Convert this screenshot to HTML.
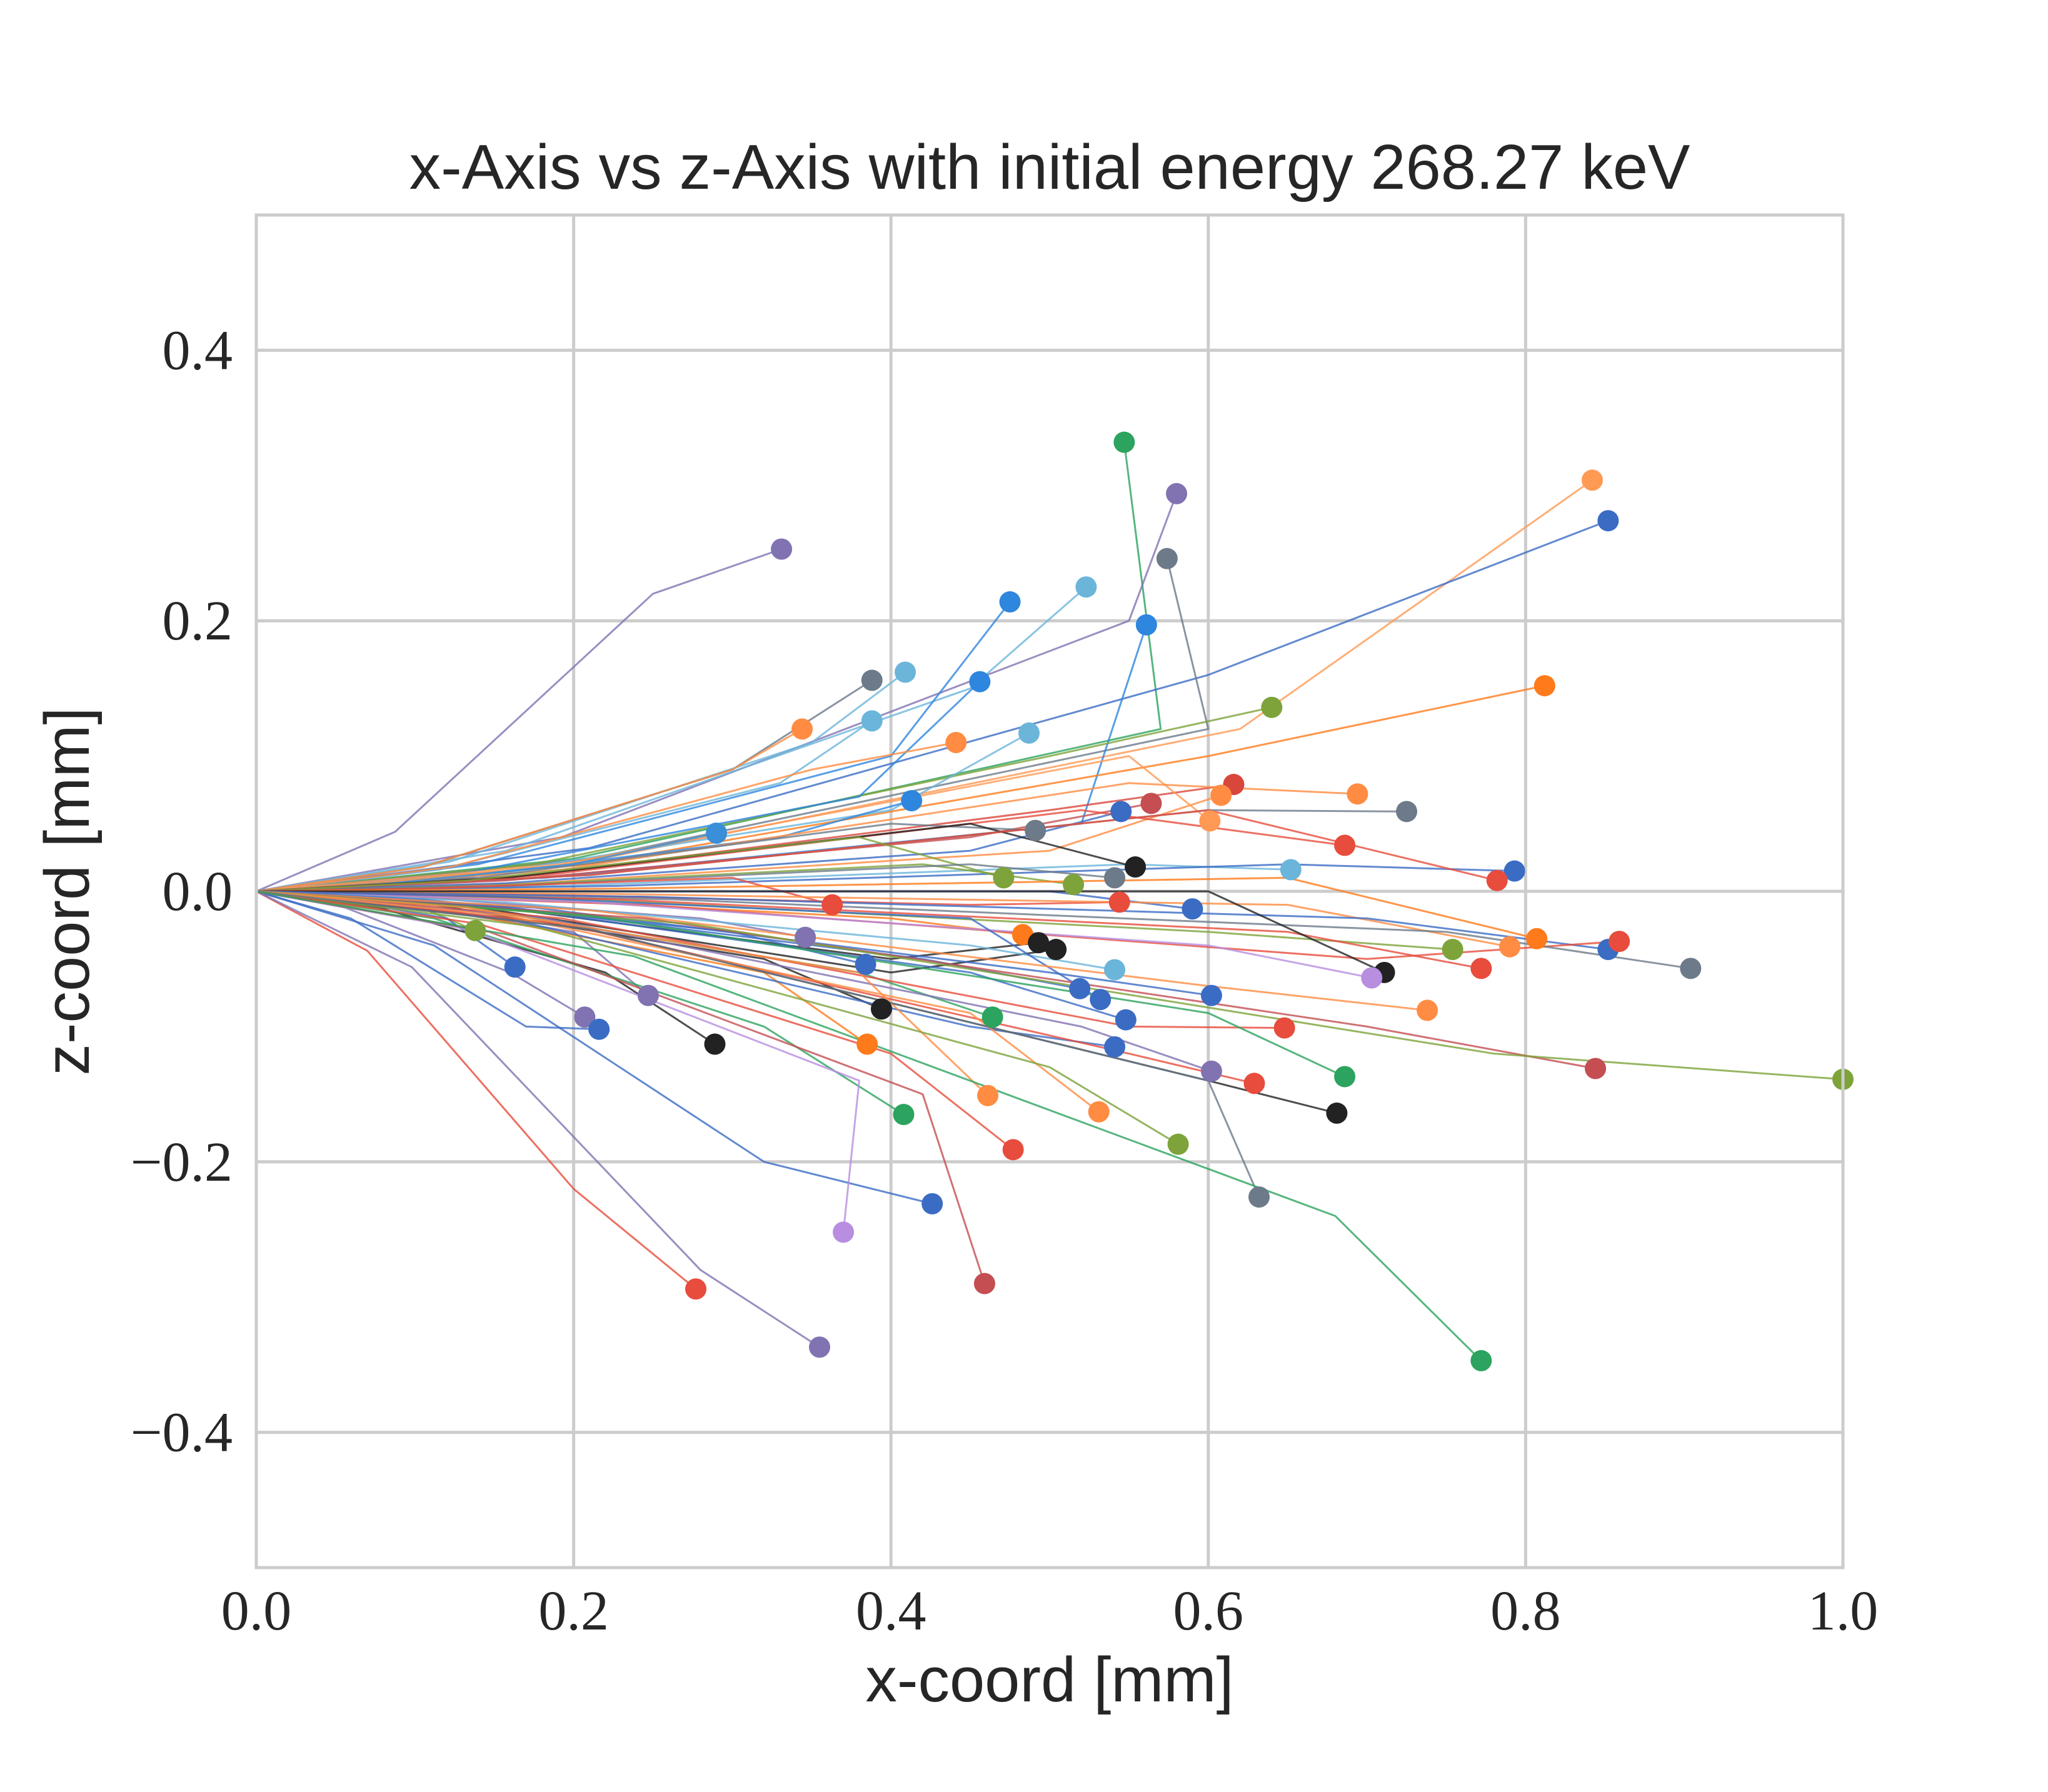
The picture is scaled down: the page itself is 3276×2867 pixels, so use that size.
<!DOCTYPE html>
<html><head><meta charset="utf-8"><style>
html,body{margin:0;padding:0;background:#fff}
svg{display:block}
.tick{font-family:"Liberation Serif",serif;font-size:90px;fill:#262626}
.lab{font-family:"Liberation Sans",sans-serif;font-size:101px;fill:#262626}
</style></head><body>
<svg id="chart" width="3276" height="2867" viewBox="0 0 3276 2867" xmlns="http://www.w3.org/2000/svg">
<rect width="3276" height="2867" fill="#fff"/>
<g id="grid"></g>
<g id="tracks"></g>
<rect x="410" y="344" width="2538" height="2164" fill="none" stroke="#cccccc" stroke-width="5"/>
<text class="lab" x="1679" y="302" text-anchor="middle">x-Axis vs z-Axis with initial energy 268.27 keV</text>
<text class="lab" x="1679" y="2722" text-anchor="middle">x-coord [mm]</text>
<text class="lab" x="142" y="1426" text-anchor="middle" transform="rotate(-90 142 1426)">z-coord [mm]</text>
<g id="ticks"></g>
</svg>
<script>
const xTicks=[0,0.2,0.4,0.6,0.8,1.0];
const xTickLabels=["0.0","0.2","0.4","0.6","0.8","1.0"];
const yTicks=[-0.4,-0.2,0,0.2,0.4];
const yTickLabels=["\u22120.4","\u22120.2","0.0","0.2","0.4"];
const endX=[.547,.580,.842,.852,.331,.574,.523,.475,.561,.812,.640,.388,.409,.456,.344,.388,.441,.487,.413,.616,.608,.601,.564,.545,.694,.725,.686,.491,.290,.652,.554,.793,.782,.471,.515,.541,.363,.544,.590,.138,.163,.346,.483,.493,.504,.754,.790,.807,.852,.859,.904,.772,.711,.703,.541,.519,.532,.602,.384,.394,.464,.548,.738,.207,.247,.216,.289,.385,.541,.648,.844,1.0,.602,.629,.686,.681,.408,.461,.531,.581,.477,.632,.426,.370,.277,.459,.355,.772];
const endZ=[.332,.294,.304,.274,.253,.246,.225,.214,.197,.152,.136,.156,.162,.155,.120,.126,.110,.117,.067,.079,.071,.052,.065,.059,.072,.059,.034,.045,.043,.016,.018,.015,.008,.010,.005,.010,-.010,-.008,-.013,-.029,-.056,-.034,-.032,-.038,-.043,-.043,-.041,-.035,-.043,-.037,-.057,-.057,-.060,-.064,-.058,-.072,-.080,-.077,-.054,-.087,-.093,-.095,-.088,-.093,-.077,-.102,-.113,-.113,-.115,-.101,-.131,-.139,-.133,-.142,-.137,-.164,-.165,-.151,-.163,-.187,-.191,-.226,-.231,-.252,-.294,-.290,-.337,-.347];
const midX=[.57,.55,.62,.60,.25,.60,.45,.40,.52,.60,.50,.30,.35,.38,.30,.33,.35,.40,.33,.50,.50,.55,.45,.45,.55,.60,.52,.40,.20,.55,.45,.65,.60,.38,.42,.45,.30,.45,.50,.10,.12,.28,.40,.40,.40,.60,.65,.65,.70,.70,.75,.65,.60,.60,.45,.42,.45,.50,.30,.32,.38,.45,.60,.16,.20,.17,.22,.32,.45,.55,.70,.78,.52,.55,.60,.60,.32,.38,.45,.50,.40,.60,.32,.38,.20,.42,.28,.68];
const midZ=[.12,.20,.12,.16,.22,.12,.15,.10,.05,.10,.10,.09,.11,.07,.09,.08,.09,.06,.04,.06,.03,.10,.04,.03,.08,.06,.06,.05,.02,.02,.05,.02,.06,.04,.02,.02,.01,-.01,.00,-.01,-.02,-.02,-.02,-.05,-.06,-.03,-.01,.01,-.02,-.05,-.03,-.03,.00,-.04,-.04,-.05,-.02,-.06,-.03,-.05,-.06,-.06,-.07,-.06,-.03,-.10,-.06,-.06,-.10,-.10,-.10,-.12,-.10,-.12,-.09,-.14,-.10,-.06,-.09,-.13,-.12,-.14,-.20,-.14,-.22,-.15,-.28,-.24];
const colorList=["#2ca35e","#8172b2","#ff9a55","#3b6cc4","#8172b2","#6c7a89","#6bb5db","#2e86de","#2e86de","#ff7a1a","#7da33a","#6c7a89","#6bb5db","#2e86de","#ff8c42","#6bb5db","#ff8c42","#6bb5db","#2e86de","#d9463b","#ff8c42","#ff9a55","#c44e52","#3b6cc4","#ff8c42","#6c7a89","#e74c3c","#6c7a89","#3b8ed8","#6bb5db","#222222","#3b6cc4","#e74c3c","#7da33a","#7da33a","#6c7a89","#e74c3c","#e74c3c","#3b6cc4","#7da33a","#3b6cc4","#8172b2","#ff7a1a","#222222","#222222","#7da33a","#ff8c42","#ff7a1a","#3b6cc4","#e74c3c","#6c7a89","#e74c3c","#222222","#b88ee0","#6bb5db","#3b6cc4","#3b6cc4","#3b6cc4","#3b6cc4","#222222","#2ca35e","#3b6cc4","#ff8c42","#8172b2","#8172b2","#3b6cc4","#222222","#ff7a1a","#3b6cc4","#e74c3c","#c44e52","#7da33a","#8172b2","#e74c3c","#2ca35e","#222222","#2ca35e","#ff8c42","#ff8c42","#7da33a","#e74c3c","#6c7a89","#3b6cc4","#b88ee0","#e74c3c","#c44e52","#8172b2","#2ca35e"];
const NS="http://www.w3.org/2000/svg";
const L=410,R=2948,T=344,B=2508;
function sx(v){return L+(v-0)/(1-0)*(R-L);}
function sy(v){return B-(v+0.5)/1.0*(B-T);}
const grid=document.getElementById('grid'),ticks=document.getElementById('ticks'),tracks=document.getElementById('tracks');
xTicks.forEach((v,i)=>{
 const ln=document.createElementNS(NS,'line');
 
 
 ln.setAttribute('x1',sx(v));ln.setAttribute('x2',sx(v));ln.setAttribute('y1',T);ln.setAttribute('y2',B);
 ln.setAttribute('stroke','#cccccc');ln.setAttribute('stroke-width','5');grid.appendChild(ln);
 const t=document.createElementNS(NS,'text');
 
 
 t.setAttribute('class','tick');t.setAttribute('x',sx(v));t.setAttribute('y',2607);t.setAttribute('text-anchor','middle');
 t.textContent=xTickLabels[i];ticks.appendChild(t);
});
yTicks.forEach((v,i)=>{
 const ln=document.createElementNS(NS,'line');
 
 
 ln.setAttribute('x1',L);ln.setAttribute('x2',R);ln.setAttribute('y1',sy(v));ln.setAttribute('y2',sy(v));
 ln.setAttribute('stroke','#cccccc');ln.setAttribute('stroke-width','5');grid.appendChild(ln);
 const t=document.createElementNS(NS,'text');
 
 
 t.setAttribute('class','tick');t.setAttribute('x',372);t.setAttribute('y',sy(v)+30);t.setAttribute('text-anchor','end');
 t.textContent=yTickLabels[i];ticks.appendChild(t);
});
endX.forEach((ex,i)=>{
 const c=colorList[i%colorList.length];
 const p=document.createElementNS(NS,'polyline');
 
 
 const mx=midX[i],mz=midZ[i];
 const pts=[[0,0],[mx*0.35,mz*0.2],[mx,mz],[ex,endZ[i]]];
 p.setAttribute('points',pts.map(q=>sx(q[0])+','+sy(q[1])).join(' '));
 p.setAttribute('fill','none');p.setAttribute('stroke',c);
 p.setAttribute('stroke-width','3');p.setAttribute('stroke-linejoin','round');p.setAttribute('opacity','0.8');tracks.appendChild(p);
});
endX.forEach((ex,i)=>{
 const c=colorList[i%colorList.length];
 const dot=document.createElementNS(NS,'circle');
 
 
 dot.setAttribute('cx',sx(ex));dot.setAttribute('cy',sy(endZ[i]));dot.setAttribute('r','17');
 dot.setAttribute('fill',c);tracks.appendChild(dot);
});
</script>
</body></html>
